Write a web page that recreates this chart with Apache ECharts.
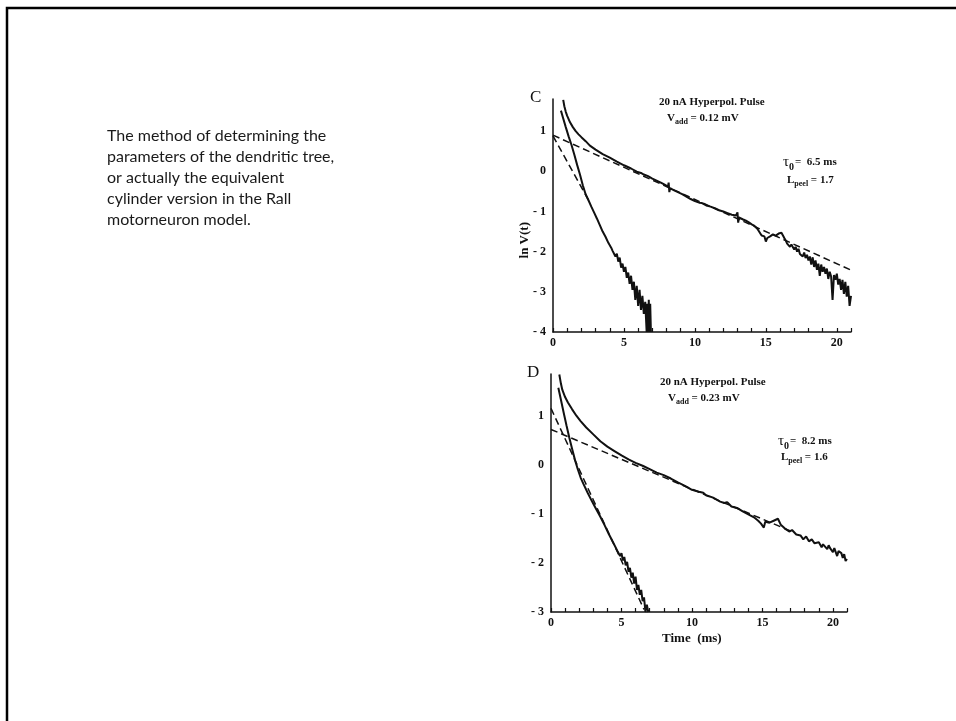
<!DOCTYPE html>
<html>
<head>
<meta charset="utf-8">
<script src="https://cdn.jsdelivr.net/npm/echarts@6/dist/echarts.min.js"></script>
<style>
  html, body { margin: 0; padding: 0; background: #fff; }
  #main { width: 956px; height: 721px; }
</style>
</head>
<body>
<div id="main"></div>
<script>
// panel C : raw decay (slow), peeled component (fast), fitted lines
var cSlowData = [
  [0.72, 1.78], [0.8, 1.62], [0.9, 1.48], [1.0, 1.38], [1.2, 1.22], [1.4, 1.10], [1.6, 1.00],
  [1.8, 0.92], [2.0, 0.85], [2.3, 0.75], [2.6, 0.64], [3.0, 0.54], [3.5, 0.43], [4.0, 0.34],
  [4.5, 0.24], [5.0, 0.15], [5.5, 0.07], [5.9, -0.01], [6.2, -0.04], [6.4, -0.08], [6.7, -0.12],
  [7.0, -0.18], [7.3, -0.23], [7.6, -0.28], [7.9, -0.34], [8.1, -0.38], [8.15, -0.28], [8.2, -0.52],
  [8.25, -0.42], [8.5, -0.47], [8.8, -0.52], [9.1, -0.57], [9.4, -0.63], [9.7, -0.69], [10.0, -0.74],
  [10.3, -0.78], [10.5, -0.79], [10.8, -0.85], [11.1, -0.88], [11.4, -0.92], [11.7, -0.97],
  [12.0, -1.00], [12.3, -1.04], [12.6, -1.08], [12.9, -1.10], [13.0, -1.02], [13.05, -1.28],
  [13.1, -1.15], [13.4, -1.20], [13.6, -1.23], [13.8, -1.27], [14.0, -1.32], [14.2, -1.36],
  [14.4, -1.43], [14.5, -1.45], [14.7, -1.60], [14.9, -1.62], [15.0, -1.75], [15.1, -1.66],
  [15.3, -1.62], [15.5, -1.57], [15.7, -1.60], [15.9, -1.55], [16.1, -1.53], [16.3, -1.66],
  [16.4, -1.72], [16.5, -1.80], [16.6, -1.76], [16.7, -1.88], [16.8, -1.82], [16.9, -1.85],
  [17.0, -1.95], [17.1, -1.88], [17.2, -2.00], [17.3, -1.93], [17.4, -2.06], [17.5, -2.02],
  [17.6, -2.12], [17.7, -2.02], [17.8, -2.16], [17.9, -2.08], [18.0, -2.22], [18.1, -2.12],
  [18.2, -2.32], [18.3, -2.14], [18.4, -2.38], [18.5, -2.22], [18.6, -2.45], [18.7, -2.30],
  [18.8, -2.60], [18.9, -2.32], [19.0, -2.50], [19.1, -2.38], [19.2, -2.55], [19.3, -2.42],
  [19.4, -2.68], [19.5, -2.50], [19.6, -2.62], [19.7, -3.20], [19.8, -2.58], [19.9, -2.70],
  [20.0, -2.55], [20.1, -2.82], [20.2, -2.68], [20.3, -2.95], [20.4, -2.70], [20.5, -3.05],
  [20.6, -2.75], [20.7, -3.12], [20.8, -2.85], [20.9, -3.35], [21.0, -3.10]
];
var cFastData = [
  [0.56, 1.51], [0.7, 1.34], [0.9, 1.10], [1.1, 0.87], [1.3, 0.66], [1.5, 0.42], [1.7, 0.16],
  [1.9, -0.08], [2.1, -0.35], [2.3, -0.57], [2.5, -0.72], [2.7, -0.88], [2.9, -1.03], [3.1, -1.18],
  [3.3, -1.34], [3.5, -1.50], [3.7, -1.63], [3.9, -1.78], [4.1, -1.90], [4.2, -1.98], [4.3, -1.95],
  [4.4, -2.12], [4.5, -2.05], [4.6, -2.25], [4.7, -2.15], [4.8, -2.40], [4.9, -2.30], [5.0, -2.50],
  [5.1, -2.38], [5.2, -2.65], [5.3, -2.52], [5.4, -2.80], [5.5, -2.60], [5.6, -2.95], [5.7, -2.75],
  [5.8, -3.20], [5.9, -2.85], [6.0, -3.35], [6.1, -2.95], [6.2, -3.45], [6.3, -3.10], [6.4, -3.55],
  [6.5, -3.25], [6.6, -4.0], [6.65, -3.3], [6.7, -4.0], [6.75, -3.2], [6.8, -4.0], [6.85, -3.3],
  [6.9, -4.0]
];
var cSlowFit = [[0, 0.90], [21, -2.46]];
var cFastFit = [[0, 0.88], [2.6, -0.78]];

// panel D
var dSlowData = [
  [0.59, 1.84], [0.7, 1.66], [0.8, 1.53], [1.0, 1.38], [1.2, 1.27], [1.5, 1.13], [1.8, 1.00],
  [2.1, 0.89], [2.5, 0.76], [3.0, 0.62], [3.5, 0.48], [4.0, 0.37], [4.5, 0.28], [5.0, 0.19],
  [5.5, 0.11], [6.0, 0.04], [6.5, -0.02], [7.0, -0.09], [7.5, -0.16], [8.0, -0.21], [8.5, -0.28],
  [9.0, -0.36], [9.5, -0.43], [10.0, -0.51], [10.5, -0.55], [10.8, -0.57], [11.0, -0.62],
  [11.5, -0.67], [12.0, -0.75], [12.3, -0.78], [12.5, -0.76], [12.8, -0.85], [13.2, -0.88],
  [13.6, -0.95], [14.0, -1.01], [14.4, -1.07], [14.7, -1.14], [14.9, -1.20], [15.1, -1.28],
  [15.2, -1.16], [15.5, -1.18], [15.8, -1.14], [16.1, -1.10], [16.3, -1.22], [16.6, -1.30],
  [16.9, -1.36], [17.1, -1.33], [17.4, -1.42], [17.7, -1.44], [17.9, -1.52], [18.1, -1.46],
  [18.3, -1.56], [18.5, -1.52], [18.7, -1.60], [18.8, -1.62], [19.0, -1.58], [19.2, -1.68],
  [19.3, -1.62], [19.4, -1.66], [19.6, -1.72], [19.7, -1.64], [19.8, -1.70], [20.0, -1.78],
  [20.1, -1.70], [20.2, -1.74], [20.3, -1.86], [20.4, -1.76], [20.6, -1.80], [20.7, -1.90],
  [20.8, -1.82], [20.9, -1.96], [21.0, -1.92]
];
var dFastData = [
  [0.52, 1.57], [0.7, 1.33], [0.9, 1.06], [1.1, 0.80], [1.3, 0.55], [1.5, 0.32], [1.7, 0.10],
  [1.9, -0.09], [2.1, -0.26], [2.3, -0.39], [2.6, -0.57], [2.9, -0.74], [3.2, -0.90], [3.5, -1.06],
  [3.8, -1.23], [4.1, -1.41], [4.4, -1.58], [4.7, -1.75], [4.8, -1.72], [4.9, -1.86], [5.0, -1.80],
  [5.1, -1.95], [5.2, -1.88], [5.3, -2.05], [5.4, -1.98], [5.5, -2.18], [5.6, -2.10], [5.7, -2.30],
  [5.8, -2.20], [5.9, -2.42], [6.0, -2.28], [6.1, -2.55], [6.2, -2.45], [6.3, -2.65], [6.4, -2.55],
  [6.5, -2.78], [6.6, -2.70], [6.7, -3.0], [6.8, -2.85], [6.9, -3.0]
];
var dSlowFit = [[0, 0.72], [17, -1.35]];
var dFastFit = [[0, 1.15], [6.6, -2.95]];

var slideText = [
  'The method of determining the',
  'parameters of the dendritic tree,',
  'or actually the equivalent',
  'cylinder version in the Rall',
  'motorneuron model.'
];

var myChart = echarts.init(document.getElementById('main'));

var serif = '"Liberation Serif", "DejaVu Serif", serif';
var ink = '#111';

function xAxisFor(gi) {
  return {
    gridIndex: gi,
    type: 'value',
    min: 0,
    max: 21,
    interval: 1,
    axisLine: { onZero: false, lineStyle: { color: ink, width: 1.5 } },
    axisTick: { inside: true, length: 4, lineStyle: { color: ink, width: 1.2 } },
    splitLine: { show: false },
    axisLabel: {
      margin: 5,
      color: ink,
      fontFamily: serif,
      fontWeight: 'bold',
      fontSize: 12,
      formatter: function (v) { return v % 5 === 0 ? String(v) : ''; }
    }
  };
}

function yAxisFor(gi, min, max) {
  return {
    gridIndex: gi,
    type: 'value',
    min: min,
    max: max,
    interval: 1,
    axisLine: { lineStyle: { color: ink, width: 1.5 } },
    axisTick: { show: false },
    splitLine: { show: false },
    axisLabel: {
      margin: 7,
      showMaxLabel: false,
      color: ink,
      fontFamily: serif,
      fontWeight: 'bold',
      fontSize: 12,
      formatter: function (v) { return v < 0 ? '- ' + Math.abs(v) : String(v); }
    }
  };
}

function trace(name, data, gi) {
  return {
    name: name, type: 'line', xAxisIndex: gi, yAxisIndex: gi,
    data: data, showSymbol: false, silent: true,
    lineStyle: { color: ink, width: 2 }
  };
}

function fit(name, data, gi) {
  return {
    name: name, type: 'line', xAxisIndex: gi, yAxisIndex: gi,
    data: data, showSymbol: false, silent: true,
    lineStyle: { color: ink, width: 1.5, type: [7, 4] }
  };
}

var subRich = {
  m: { fontFamily: serif, fontWeight: 'bold', fontSize: 11, color: ink },
  t: { fontFamily: serif, fontSize: 15, color: ink },
  s: { fontFamily: serif, fontWeight: 'bold', fontSize: 8, color: ink, padding: [7, 0, 0, 0] },
  z: { fontFamily: serif, fontWeight: 'bold', fontSize: 10, color: ink, padding: [10, 1, 0, 0] }
};

function note(x, y, text) {
  return {
    type: 'text', left: x, top: y, silent: true,
    style: { text: text, rich: subRich, verticalAlign: 'middle', fill: ink }
  };
}

option = {
  animation: false,
  backgroundColor: '#fff',
  grid: [
    { left: 553, top: 99, width: 298, height: 233 },
    { left: 551, top: 374, width: 296, height: 238 }
  ],
  xAxis: [xAxisFor(0), xAxisFor(1)],
  yAxis: [yAxisFor(0, -4, 1.8), yAxisFor(1, -3, 1.85)],
  series: [
    trace('C slow', cSlowData, 0),
    trace('C fast', cFastData, 0),
    fit('C slow fit', cSlowFit, 0),
    fit('C fast fit', cFastFit, 0),
    trace('D slow', dSlowData, 1),
    trace('D fast', dFastData, 1),
    fit('D slow fit', dSlowFit, 1),
    fit('D fast fit', dFastFit, 1)
  ],
  graphic: [
    // slide frame (top and left edges)
    {
      type: 'polyline', silent: true,
      shape: { points: [[7, 721], [7, 8], [956, 8]] },
      style: { stroke: '#000', lineWidth: 2.5, fill: null }
    },
    {
      type: 'text', left: 107, top: 125, silent: true,
      style: {
        text: slideText.join('\n'),
        font: '16px Lato, "Open Sans", sans-serif',
        lineHeight: 21,
        fill: '#1a1a1a'
      }
    },
    // panel C labels
    { type: 'text', left: 530, top: 89, silent: true,
      style: { text: 'C', font: '17px ' + serif, fill: ink } },
    { type: 'text', left: 518, top: 222, rotation: Math.PI / 2, silent: true,
      style: { text: 'ln V(t)', font: 'bold 13px ' + serif, fill: ink, align: 'center', verticalAlign: 'middle' } },
    note(659, 97, '{m|20 nA Hyperpol. Pulse}'),
    note(667, 113, '{m|V}{s|add}{m| = 0.12 mV}'),
    note(783, 155, '{t|τ}{z|0}{m|=  6.5 ms}'),
    note(787, 175, '{m|L}{s|peel}{m| = 1.7}'),
    // panel D labels
    { type: 'text', left: 527, top: 364, silent: true,
      style: { text: 'D', font: '17px ' + serif, fill: ink } },
    note(660, 377, '{m|20 nA Hyperpol. Pulse}'),
    note(668, 393, '{m|V}{s|add}{m| = 0.23 mV}'),
    note(778, 434, '{t|τ}{z|0}{m|=  8.2 ms}'),
    note(781, 452, '{m|L}{s|peel}{m| = 1.6}'),
    { type: 'text', left: 662, top: 632, silent: true,
      style: { text: 'Time  (ms)', font: 'bold 13px ' + serif, fill: ink } }
  ]
};

myChart.setOption(option);
</script>
</body>
</html>
